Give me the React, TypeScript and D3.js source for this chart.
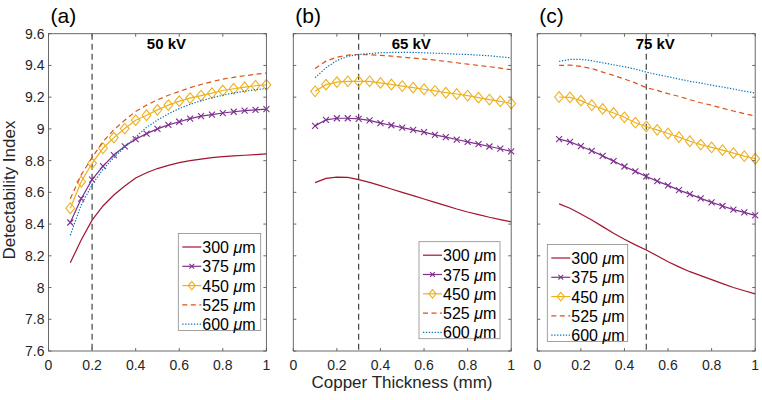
import * as d3 from 'd3'

// copper thickness (mm) sampled every 0.05
const thickness = [0.1, 0.15, 0.2, 0.25, 0.3, 0.35, 0.4, 0.45, 0.5, 0.55, 0.6, 0.65, 0.7, 0.75, 0.8, 0.85, 0.9, 0.95, 1.0]

const seriesNames = ['300', '375', '450', '525', '600']
const panelLabels = ['(a)', '(b)', '(c)']
const voltages = ['50 kV', '65 kV', '75 kV']
const refThickness = [0.2, 0.3, 0.5]

const xTicks = [0, 0.2, 0.4, 0.6, 0.8, 1]
const yTicks = [7.6, 7.8, 8, 8.2, 8.4, 8.6, 8.8, 9, 9.2, 9.4, 9.6]

// 50 kV
const kv50_300 = [8.156, 8.3, 8.425, 8.514, 8.583, 8.64, 8.69, 8.724, 8.75, 8.77, 8.787, 8.8, 8.81, 8.819, 8.825, 8.83, 8.834, 8.838, 8.842]
const kv50_375 = [8.41, 8.56, 8.68, 8.765, 8.835, 8.89, 8.935, 8.97, 9.0, 9.025, 9.045, 9.065, 9.08, 9.09, 9.1, 9.108, 9.115, 9.12, 9.125]
const kv50_450 = [8.5, 8.667, 8.783, 8.878, 8.945, 9.002, 9.055, 9.086, 9.12, 9.15, 9.175, 9.194, 9.21, 9.225, 9.242, 9.253, 9.263, 9.272, 9.278]
const kv50_525 = [8.56, 8.71, 8.82, 8.92, 8.994, 9.055, 9.11, 9.15, 9.183, 9.212, 9.236, 9.26, 9.28, 9.298, 9.314, 9.325, 9.335, 9.344, 9.352]
const kv50_600 = [8.33, 8.52, 8.648, 8.745, 8.82, 8.885, 8.95, 9.01, 9.055, 9.095, 9.128, 9.155, 9.177, 9.196, 9.212, 9.226, 9.237, 9.247, 9.255]

// 65 kV
const kv65_300 = [8.661, 8.688, 8.696, 8.694, 8.68, 8.663, 8.642, 8.621, 8.6, 8.579, 8.558, 8.537, 8.516, 8.495, 8.476, 8.46, 8.443, 8.428, 8.414]
const kv65_375 = [9.019, 9.057, 9.067, 9.067, 9.063, 9.054, 9.036, 9.023, 9.008, 8.994, 8.98, 8.962, 8.948, 8.933, 8.918, 8.904, 8.889, 8.875, 8.858]
const kv65_450 = [9.237, 9.279, 9.295, 9.3, 9.3, 9.3, 9.29, 9.28, 9.27, 9.26, 9.25, 9.24, 9.228, 9.22, 9.21, 9.197, 9.185, 9.174, 9.16]
const kv65_525 = [9.38, 9.427, 9.452, 9.465, 9.469, 9.467, 9.463, 9.459, 9.452, 9.446, 9.44, 9.434, 9.425, 9.417, 9.408, 9.4, 9.392, 9.383, 9.373]
const kv65_600 = [9.323, 9.385, 9.431, 9.457, 9.469, 9.475, 9.48, 9.482, 9.482, 9.482, 9.48, 9.477, 9.475, 9.471, 9.469, 9.465, 9.461, 9.454, 9.448]

// 75 kV
const kv75_300 = [8.527, 8.5, 8.464, 8.426, 8.384, 8.342, 8.304, 8.269, 8.237, 8.2, 8.163, 8.13, 8.1, 8.075, 8.05, 8.025, 8.0, 7.98, 7.96]
const kv75_375 = [8.935, 8.918, 8.891, 8.862, 8.83, 8.797, 8.763, 8.732, 8.7, 8.671, 8.644, 8.614, 8.589, 8.562, 8.537, 8.514, 8.491, 8.474, 8.455]
const kv75_450 = [9.201, 9.199, 9.178, 9.149, 9.126, 9.1, 9.073, 9.039, 9.015, 8.994, 8.971, 8.948, 8.922, 8.901, 8.883, 8.866, 8.847, 8.828, 8.812]
const kv75_525 = [9.4, 9.402, 9.394, 9.38, 9.358, 9.337, 9.314, 9.29, 9.26, 9.243, 9.222, 9.205, 9.184, 9.165, 9.149, 9.13, 9.113, 9.096, 9.082]
const kv75_600 = [9.425, 9.438, 9.438, 9.43, 9.417, 9.404, 9.392, 9.377, 9.358, 9.343, 9.329, 9.314, 9.3, 9.289, 9.276, 9.264, 9.251, 9.238, 9.226]

const panelSeries = [
  [kv50_300, kv50_375, kv50_450, kv50_525, kv50_600],
  [kv65_300, kv65_375, kv65_450, kv65_525, kv65_600],
  [kv75_300, kv75_375, kv75_450, kv75_525, kv75_600],
]

const seriesStyle = [
  { color: '#A2142F', dash: undefined, marker: 'none' },
  { color: '#7E2F8E', dash: undefined, marker: 'x' },
  { color: '#EDB120', dash: undefined, marker: 'diamond' },
  { color: '#D95319', dash: '5,3.5', marker: 'none' },
  { color: '#0072BD', dash: '1.3,1.6', marker: 'none' },
]

const W = 762
const H = 400
const plotTop = 33.7
const plotBottom = 351
const panelLefts = [48.5, 293.3, 537.3]
const panelWidth = 217.9
const legendBoxes = [
  { x: 178.3, y: 233.5, w: 82.4 },
  { x: 419, y: 241.7, w: 81 },
  { x: 547.3, y: 244.5, w: 80.4 },
]
const font = '"Liberation Sans", Arial, Helvetica, sans-serif'
const axisColor = '#5a5a5a'
const textColor = '#262626'

function Marker({ kind, x, y, color, scale = 1 }: { kind: string; x: number; y: number; color: string; scale?: number }) {
  if (kind === 'x') {
    const s = 3 * scale
    return (
      <path
        d={`M${x - s},${y - s}L${x + s},${y + s}M${x - s},${y + s}L${x + s},${y - s}`}
        stroke={color}
        strokeWidth={1.1}
        fill="none"
      />
    )
  }
  if (kind === 'diamond') {
    const h = 5.3 * scale
    const w = 4.4 * scale
    return (
      <path
        d={`M${x},${y - h}L${x + w},${y}L${x},${y + h}L${x - w},${y}Z`}
        stroke={color}
        strokeWidth={1.1}
        fill="none"
      />
    )
  }
  return null
}

function Panel({ index }: { index: number }) {
  const left = panelLefts[index]
  const x = d3.scaleLinear().domain([0, 1]).range([left, left + panelWidth])
  const y = d3.scaleLinear().domain([7.6, 9.6]).range([plotBottom, plotTop])
  const line = d3
    .line<number>()
    .x((_, i) => x(thickness[i]))
    .y((d) => y(d))
  const series = panelSeries[index]
  const box = legendBoxes[index]
  const tick = 3
  const right = left + panelWidth

  return (
    <g>
      {/* reference thickness */}
      <line
        x1={x(refThickness[index])}
        x2={x(refThickness[index])}
        y1={plotTop}
        y2={plotBottom}
        stroke="#333"
        strokeWidth={1.1}
        strokeDasharray="6,4"
      />

      {series.map((values, si) => (
        <g key={si}>
          <path
            d={line(values) ?? ''}
            fill="none"
            stroke={seriesStyle[si].color}
            strokeWidth={1.2}
            strokeDasharray={seriesStyle[si].dash}
          />
          {seriesStyle[si].marker !== 'none' &&
            values.map((v, i) => (
              <Marker key={i} kind={seriesStyle[si].marker} x={x(thickness[i])} y={y(v)} color={seriesStyle[si].color} />
            ))}
        </g>
      ))}

      <text
        x={x(0.5) + 9}
        y={plotTop + 15}
        textAnchor="middle"
        fontFamily={font}
        fontWeight="bold"
        fontSize={15}
        fill="#000"
      >
        {voltages[index]}
      </text>

      {/* axes box */}
      <rect x={left} y={plotTop} width={panelWidth} height={plotBottom - plotTop} fill="none" stroke={axisColor} strokeWidth={0.9} />
      {xTicks.map((t) => (
        <g key={`x${t}`}>
          <line x1={x(t)} x2={x(t)} y1={plotBottom} y2={plotBottom - tick} stroke={axisColor} strokeWidth={0.9} />
          <line x1={x(t)} x2={x(t)} y1={plotTop} y2={plotTop + tick} stroke={axisColor} strokeWidth={0.9} />
          <text x={x(t)} y={plotBottom + 19} textAnchor="middle" fontFamily={font} fontSize={14} fill={textColor}>
            {t}
          </text>
        </g>
      ))}
      {yTicks.map((t) => (
        <g key={`y${t}`}>
          <line x1={left} x2={left + tick} y1={y(t)} y2={y(t)} stroke={axisColor} strokeWidth={0.9} />
          <line x1={right} x2={right - tick} y1={y(t)} y2={y(t)} stroke={axisColor} strokeWidth={0.9} />
          {index === 0 && (
            <text x={left - 4} y={y(t) + 5} textAnchor="end" fontFamily={font} fontSize={14} fill={textColor}>
              {t}
            </text>
          )}
        </g>
      ))}

      <text x={left + 2} y={23} fontFamily={font} fontSize={21} fill="#000">
        {panelLabels[index]}
      </text>

      {/* legend */}
      <rect x={box.x} y={box.y} width={box.w} height={97} fill="#fff" stroke="#8a8a8a" strokeWidth={0.8} />
      {seriesNames.map((name, si) => {
        const ry = box.y + 13.5 + si * 19.3
        const st = seriesStyle[si]
        return (
          <g key={name}>
            <line
              x1={box.x + 4}
              x2={box.x + 23}
              y1={ry}
              y2={ry}
              stroke={st.color}
              strokeWidth={1.2}
              strokeDasharray={st.dash}
            />
            <Marker kind={st.marker} x={box.x + 13.5} y={ry} color={st.color} scale={0.8} />
            <text x={box.x + 24} y={ry + 6} fontFamily={font} fontSize={16} fill="#000">
              {name} <tspan fontStyle="italic">μ</tspan>m
            </text>
          </g>
        )
      })}
    </g>
  )
}

export default function App() {
  return (
    <svg width={W} height={H} style={{ position: 'absolute', left: 0, top: 0, background: '#fff' }}>
      {panelLabels.map((_, i) => (
        <Panel key={i} index={i} />
      ))}
      <text
        transform={`translate(15,190) rotate(-90)`}
        textAnchor="middle"
        fontFamily={font}
        fontSize={17}
        fill={textColor}
      >
        Detectability Index
      </text>
      <text x={402} y={388} textAnchor="middle" fontFamily={font} fontSize={17} fill={textColor}>
        Copper Thickness (mm)
      </text>
    </svg>
  )
}
